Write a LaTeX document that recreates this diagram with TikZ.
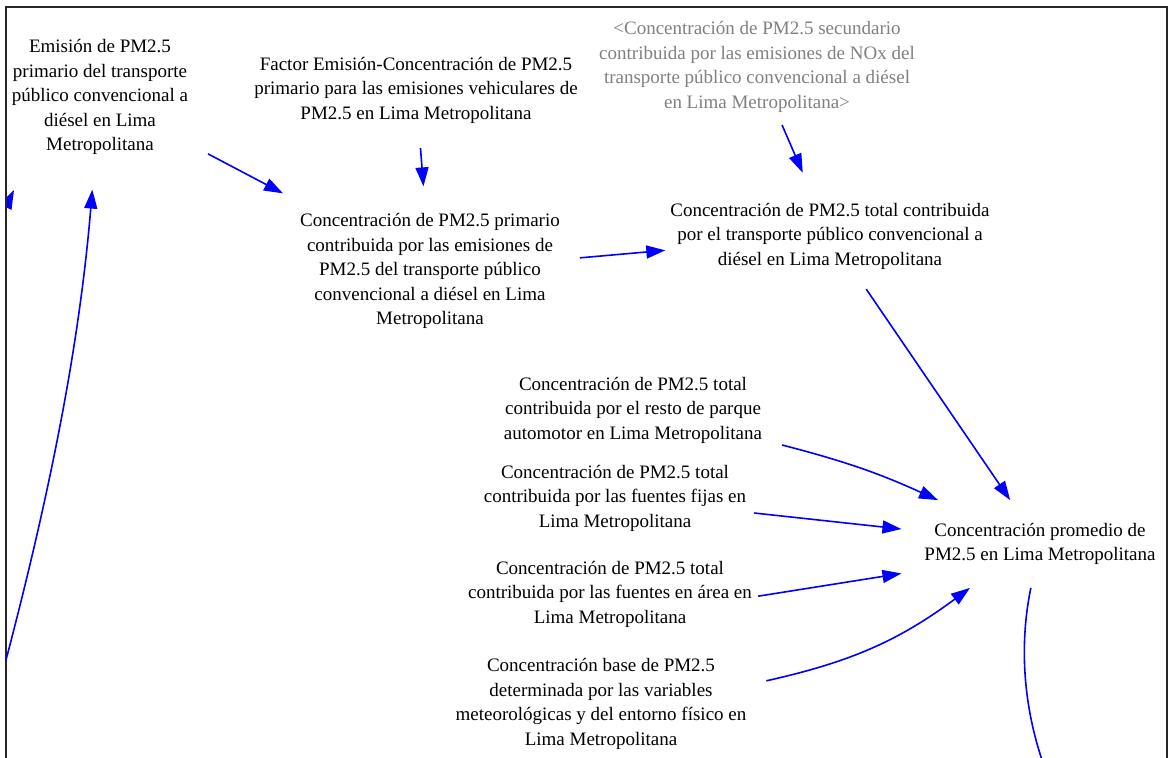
\documentclass[tikz,border=0pt]{standalone}
\usepackage{fontspec}
\setmainfont{Liberation Serif}
\usetikzlibrary{arrows.meta}
\tikzset{
  var/.style={align=center,inner sep=0pt,outer sep=20pt,font=\fontsize{19}{24.5}\selectfont},
  shadowvar/.style={var,text=black!50},
  link/.style={draw=blue,line width=1.6pt,-{Triangle[length=19pt,width=13pt]}},
}
\begin{document}
\begin{tikzpicture}[x=1pt,y=-1pt]
\useasboundingbox (0,0) rectangle (1171,758);
\draw[line width=2.2pt,black!85] (6,758) -- (6,7) -- (1167,7) -- (1167,758);

\node[var] (emis) at (100,97) {Emisión de PM2.5\\primario del transporte\\público convencional a\\diésel en Lima\\Metropolitana};
\node[var] (factor) at (416,90) {Factor Emisión-Concentración de PM2.5\\primario para las emisiones vehiculares de\\PM2.5 en Lima Metropolitana};
\node[shadowvar] (secund) at (757,67) {<Concentración de PM2.5 secundario\\contribuida por las emisiones de NOx del\\transporte público convencional a diésel\\en Lima Metropolitana>};
\node[var] (prim) at (430,271) {Concentración de PM2.5 primario\\contribuida por las emisiones de\\PM2.5 del transporte público\\convencional a diésel en Lima\\Metropolitana};
\node[var] (total) at (830,236) {Concentración de PM2.5 total contribuida\\por el transporte público convencional a\\diésel en Lima Metropolitana};
\node[var] (resto) at (633,410) {Concentración de PM2.5 total\\contribuida por el resto de parque\\automotor en Lima Metropolitana};
\node[var] (fijas) at (615,498) {Concentración de PM2.5 total\\contribuida por las fuentes fijas en\\Lima Metropolitana};
\node[var] (area) at (610,594) {Concentración de PM2.5 total\\contribuida por las fuentes en área en\\Lima Metropolitana};
\node[var] (base) at (601,704) {Concentración base de PM2.5\\determinada por las variables\\meteorológicas y del entorno físico en\\Lima Metropolitana};
\node[var,outer sep=23pt] (prom) at (1040,544) {Concentración promedio de\\PM2.5 en Lima Metropolitana};

\coordinate (inleft) at (6,660);
\coordinate (outbottom) at (1042,760);

\draw[link] (emis) -- (prim);
\draw[link,shorten <=5pt,shorten >=7pt] (factor) -- (prim);
\draw[link,shorten <=-8pt,shorten >=11pt] (secund) -- (total);
\draw[link,shorten >=-15pt] (prim) -- (total);
\draw[link] (total) -- (prom);
\draw[link] (resto) to[bend left=5] (prom);
\draw[link,shorten <=-12pt] (fijas) -- (prom);
\draw[link,shorten <=-14pt] (area.east) -- (prom.192);
\draw[link] (base) to[bend right=12] (prom);
\draw[link,shorten >=15pt] (inleft) .. controls (48,500) and (79,350) .. (emis);
\draw[draw=blue,line width=1.6pt] (prom) .. controls (1020,640) and (1022,700) .. (outbottom);
\begin{scope}
\clip (7,0) rectangle (1171,758);
\draw[link] (0,218) -- (14,190);
\end{scope}
\end{tikzpicture}
\end{document}
